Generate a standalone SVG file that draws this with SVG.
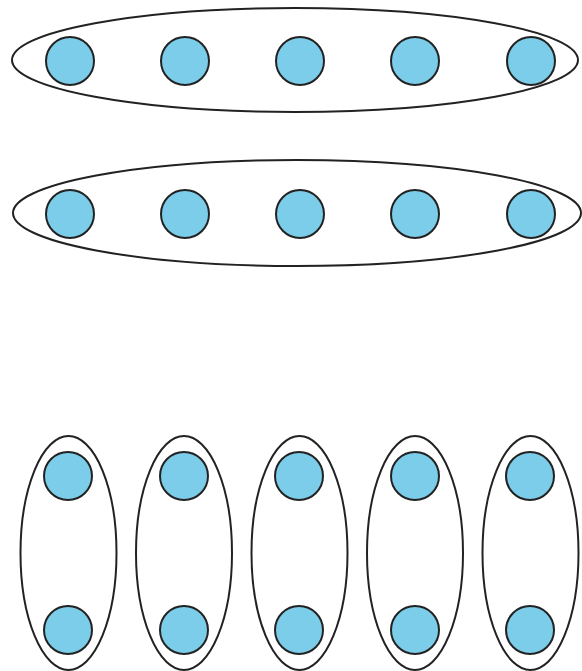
<svg xmlns="http://www.w3.org/2000/svg" width="582" height="671" viewBox="0 0 582 671">
<style>
.g{fill:none;stroke:#222;stroke-width:2}
.n{fill:#7ccdea;stroke:#222;stroke-width:2}
</style>
<rect width="582" height="671" fill="#fff"/>
<g id="group-row1">
<ellipse class="g" cx="295" cy="60" rx="283" ry="52"/>
</g>
<g id="group-row2">
<ellipse class="g" cx="297" cy="213" rx="284" ry="53"/>
</g>
<g id="group-cols">
<ellipse class="g" cx="68.5" cy="553" rx="48" ry="117"/>
<ellipse class="g" cx="184" cy="553" rx="48" ry="117"/>
<ellipse class="g" cx="299.5" cy="553" rx="48" ry="117"/>
<ellipse class="g" cx="415" cy="553" rx="48" ry="117"/>
<ellipse class="g" cx="530.5" cy="553" rx="48" ry="117"/>
</g>
<g id="nodes-row1">
<circle id="n1" class="n" cx="70" cy="61" r="24"/>
<circle id="n2" class="n" cx="185" cy="61" r="24"/>
<circle id="n3" class="n" cx="300" cy="61" r="24"/>
<circle id="n4" class="n" cx="415" cy="61" r="24"/>
<circle id="n5" class="n" cx="531" cy="61" r="24"/>
</g>
<g id="nodes-row2">
<circle id="n6" class="n" cx="70" cy="214" r="24"/>
<circle id="n7" class="n" cx="185" cy="214" r="24"/>
<circle id="n8" class="n" cx="300" cy="214" r="24"/>
<circle id="n9" class="n" cx="415" cy="214" r="24"/>
<circle id="n10" class="n" cx="531" cy="214" r="24"/>
</g>
<g id="nodes-bottom">
<circle id="n11" class="n" cx="68" cy="476" r="24"/>
<circle id="n12" class="n" cx="184" cy="476" r="24"/>
<circle id="n13" class="n" cx="299" cy="476" r="24"/>
<circle id="n14" class="n" cx="415" cy="476" r="24"/>
<circle id="n15" class="n" cx="530" cy="476" r="24"/>
<circle id="n16" class="n" cx="68" cy="630" r="24"/>
<circle id="n17" class="n" cx="184" cy="630" r="24"/>
<circle id="n18" class="n" cx="299" cy="630" r="24"/>
<circle id="n19" class="n" cx="415" cy="630" r="24"/>
<circle id="n20" class="n" cx="530" cy="630" r="24"/>
</g>
<g id="connectors"/>
</svg>
